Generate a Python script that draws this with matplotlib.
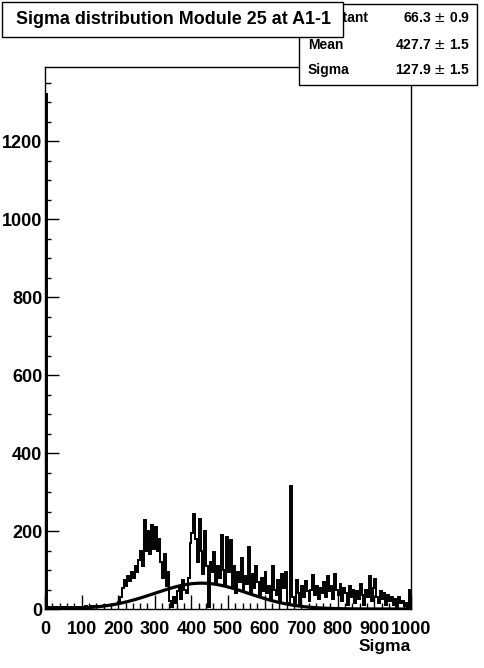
import numpy as np
import matplotlib
matplotlib.use('Agg')
from matplotlib import pyplot as plt
from matplotlib.patches import Rectangle

# histogram of sigma, bins of width 5 from 0 to 1000
bin_edges = np.arange(0, 1005, 5)
counts = [
    1320, 4, 5, 3, 4, 5, 4, 6, 5, 4,
    5, 4, 6, 5, 5, 6, 4, 5, 6, 5,
    6, 5, 7, 6, 5, 7, 6, 8, 6, 7,
    8, 7, 9, 8, 10, 9, 11, 10, 12, 14,
    18, 30, 55, 75, 60, 85, 72, 95, 80, 110,
    95, 125, 150, 110, 228, 150, 200, 140, 215, 155,
    210, 150, 180, 120, 80, 140, 60, 95, 20, 5,
    30, 15, 45, 60, 25, 75, 50, 40, 80, 170,
    195, 243, 180, 120, 230, 150, 90, 200, 110, 5,
    120, 95, 145, 70, 110, 80, 190, 100, 60, 185,
    95, 177, 60, 110, 40, 95, 70, 130, 50, 85,
    65, 160, 40, 90, 55, 110, 70, 30, 80, 45,
    95, 40, 60, 25, 110, 50, 35, 75, 20, 90,
    55, 95, 15, 10, 315, 30, 8, 75, 40, 10,
    60, 30, 72, 45, 20, 50, 87, 35, 60, 25,
    55, 40, 70, 30, 85, 45, 60, 25, 90, 50,
    35, 65, 20, 55, 40, 10, 60, 30, 50, 15,
    45, 25, 65, 35, 10, 50, 30, 84, 20, 55,
    76, 30, 15, 45, 25, 40, 10, 35, 20, 30,
    10, 25, 5, 30, 15, 20, 8, 15, 5, 50,
]

# gaussian fit result
fit_names = ['Constant', 'Mean', 'Sigma']
fit_values = [66.3, 427.7, 127.9]
fit_errors = [0.9, 1.5, 1.5]

title = 'Sigma distribution Module 25 at A1-1'
font = 'Liberation Sans'

W, H = 484, 668
fig = plt.figure(figsize=(W / 100, H / 100), dpi=100)
ax = fig.add_axes([45 / W, (H - 609) / H, 366 / W, 542 / H])

ax.stairs(counts, bin_edges, color='black', linewidth=1.4)
xs = np.linspace(0, 1000, 500)
c, m, s = fit_values
ax.plot(xs, c * np.exp(-0.5 * ((xs - m) / s) ** 2), color='black', linewidth=2.3)

ax.set_xlim(0, 1000)
ax.set_ylim(0, 1390)
ax.set_xticks(np.arange(0, 1001, 100))
ax.set_xticks(np.arange(0, 1001, 20), minor=True)
ax.set_yticks(np.arange(0, 1201, 200))
ax.set_yticks(np.arange(0, 1390, 50), minor=True)
ax.tick_params(direction='in', which='major', length=10, width=1, labelsize=13)
ax.tick_params(direction='in', which='minor', length=4.5, width=1)
ax.tick_params(axis='x', pad=9)
ax.tick_params(axis='y', pad=2)
ax.tick_params(top=False, right=False, which='both')
for lab in ax.get_xticklabels() + ax.get_yticklabels():
    lab.set_fontfamily(font)
    lab.set_fontweight('bold')
for sp in ax.spines.values():
    sp.set_linewidth(1)
ax.set_xlabel('Sigma', fontfamily=font, fontweight='bold', fontsize=12.5)
ax.xaxis.set_label_coords(1.0, -0.055)
ax.xaxis.label.set_horizontalalignment('right')

# stats box
fig.patches.append(Rectangle((299 / W, 1 - 85 / H), 178 / W, 81 / H, transform=fig.transFigure,
                             facecolor='white', edgecolor='black', linewidth=1, zorder=5))
row_y = [18, 45, 70]
for name, val, err, y in zip(fit_names, fit_values, fit_errors, row_y):
    fig.text(308 / W, 1 - y / H, name, fontfamily=font, fontweight='bold', fontsize=10,
             va='center', ha='left', zorder=6)
    fig.text(470 / W, 1 - y / H, f'{val:.1f} $\\pm$ {err:.1f}', fontfamily=font, fontweight='bold',
             fontsize=10, va='center', ha='right', zorder=6)

# title box
fig.patches.append(Rectangle((2 / W, 1 - 37 / H), 341 / W, 35 / H, transform=fig.transFigure,
                             facecolor='white', edgecolor='black', linewidth=1, zorder=7))
fig.text(173 / W, 1 - 20 / H, title, fontfamily=font, fontweight='bold', fontsize=12.9,
         ha='center', va='center', zorder=8)

fig.savefig('out.png', dpi=100)
